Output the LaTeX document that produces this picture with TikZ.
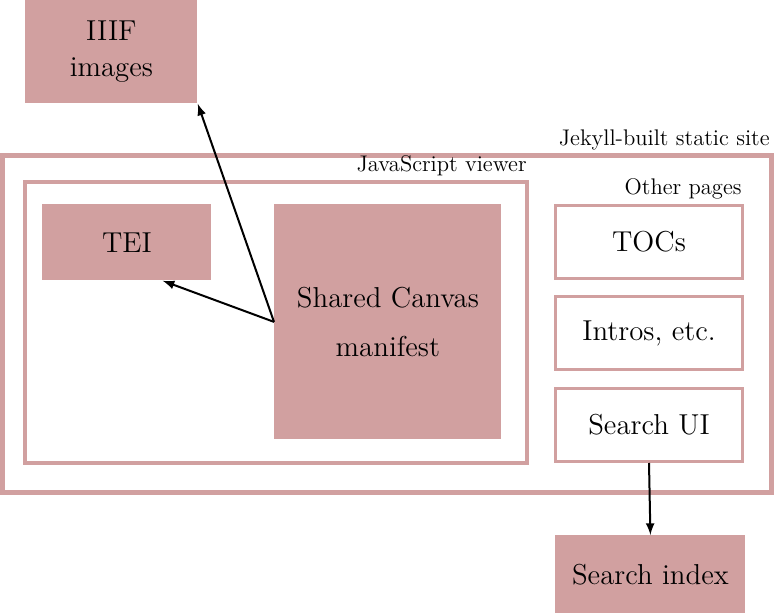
\documentclass[tikz,border=0pt]{standalone}
\usepackage{xcolor}
\usetikzlibrary{calc,arrows}
\definecolor{rosebox}{HTML}{D1A0A0}

\begin{document}
\begin{tikzpicture}[x=0.5pt,y=-0.5pt,
  filled/.style={rectangle, fill=rosebox, inner sep=0pt, font=\Large, align=center, anchor=north west},
  framed/.style={rectangle, draw=rosebox, inner sep=0pt, anchor=north west},
  page/.style={framed, line width=1.5pt, fill=white, font=\Large, minimum width=93.5pt, minimum height=36.5pt},
  tag/.style={anchor=south east, inner sep=1pt, font=\fontsize{11.3}{13}\selectfont},
  link/.style={-latex, line width=1pt}]
\useasboundingbox (0,0) rectangle (774,613);

% containers
\node[framed, line width=2.5pt, minimum width=384.5pt, minimum height=168.5pt] (site) at (0,153) {};
\node[framed, line width=2pt, minimum width=251pt, minimum height=140.5pt] (viewer) at (23,180) {};
\node[tag] at ($(site.north east)+(-2,0)$) {Jekyll-built static site};
\node[tag] at ($(viewer.north east)+(0,-2)$) {JavaScript viewer};

% filled boxes
\node[filled, minimum width=86pt, minimum height=51.5pt] (iiif) at (25,0) {IIIF\\images};
\node[filled, minimum width=84.5pt, minimum height=38pt] (tei) at (42,204) {TEI};
\node[filled, minimum width=113.5pt, minimum height=117.5pt] (manifest) at (274,204) {Shared Canvas\\[6.5pt]manifest};
\node[filled, minimum width=95pt, minimum height=39pt] (sindex) at (555,535) {Search index};

% other pages
\node[page] (tocs) at (554,204) {TOCs};
\node[page] (intros) at (554,295) {Intros, etc.};
\node[page] (searchui) at (554,387) {Search UI};
\node[tag] at ($(tocs.north east)+(0,-2)$) {Other pages};

\draw[link] (manifest.west) -- (iiif.-31);
\draw[link] (manifest.west) -- (tei.-47);
\draw[link] (searchui.south) -- (sindex.north);
\end{tikzpicture}
\end{document}
